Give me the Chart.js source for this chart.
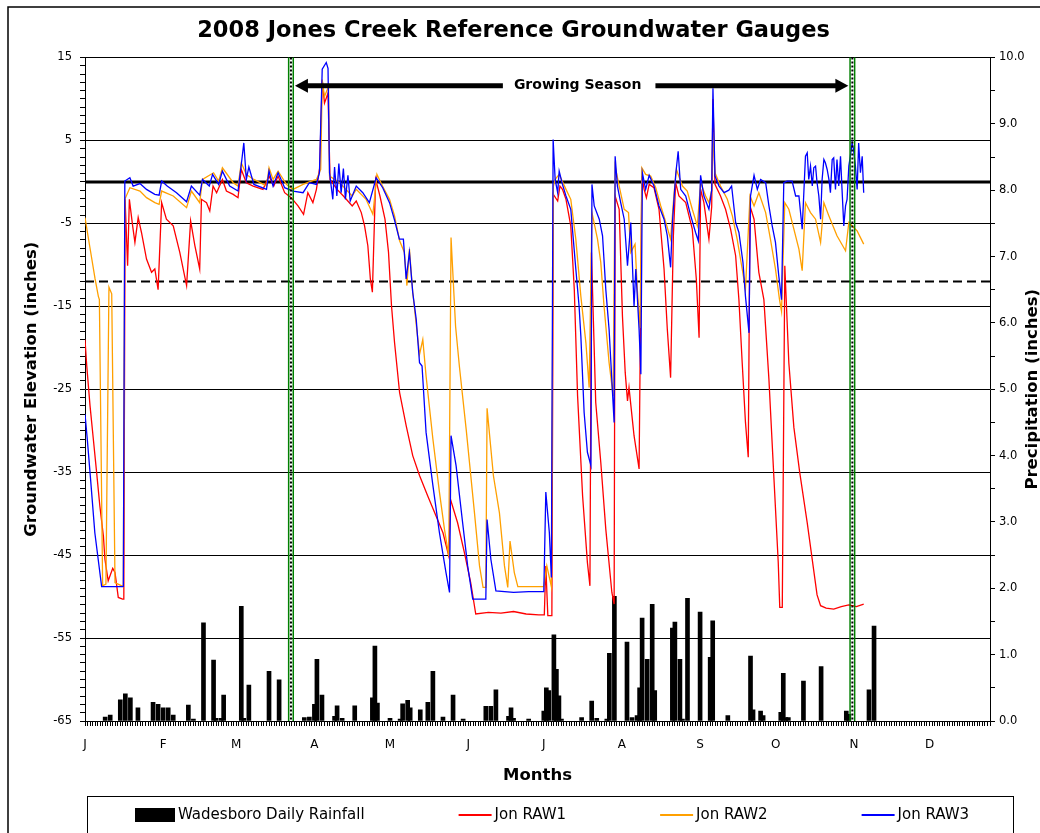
<!DOCTYPE html>
<html>
<head>
<meta charset="utf-8">
<title>2008 Jones Creek Reference Groundwater Gauges</title>
<script src="https://cdn.jsdelivr.net/npm/chart.js@4.4.1/dist/chart.umd.min.js"></script>
<style>
  html, body { margin: 0; padding: 0; background: #fff; }
</style>
</head>
<body>
<canvas id="myChart" width="1040" height="833"></canvas>
<script>
// x values are day of year (0 = Jan 1, 2008)
const monthStarts = [0, 31, 60, 91, 121, 152, 182, 213, 244, 274, 305, 335];
const monthLabels = ['J', 'F', 'M', 'A', 'M', 'J', 'J', 'A', 'S', 'O', 'N', 'D'];

// Wadesboro daily rainfall [day, inches]
const rainfall = [
  [8,0.06],[10,0.09],[14,0.32],[16,0.41],[18,0.35],[21,0.2],[27,0.28],[29,0.25],[31,0.2],[33,0.2],
  [35,0.09],[41,0.24],[43,0.03],[47,1.48],[51,0.92],[52,0.04],[54,0.04],[55,0.39],[62,1.73],[63,0.04],
  [65,0.54],[73,0.75],[77,0.62],[87,0.05],[89,0.06],[91,0.25],[92,0.93],[94,0.39],[99,0.07],[100,0.23],
  [102,0.04],[107,0.23],[114,0.35],[115,1.13],[116,0.27],[121,0.04],[125,0.03],[126,0.26],[128,0.31],[129,0.2],
  [133,0.17],[136,0.28],[138,0.75],[142,0.06],[146,0.39],[150,0.03],[159,0.22],[161,0.22],[163,0.47],[168,0.07],
  [169,0.2],[170,0.04],[176,0.03],[182,0.15],[183,0.5],[184,0.46],[186,1.3],[187,0.78],[188,0.38],[189,0.03],
  [197,0.05],[201,0.3],[203,0.04],[207,0.03],[208,1.02],[210,1.88],[215,1.19],[217,0.05],[219,0.08],[220,0.5],
  [221,1.55],[223,0.93],[225,1.76],[226,0.46],[233,1.4],[234,1.49],[236,0.93],[237,0.03],[239,1.85],[244,1.64],
  [248,0.96],[249,1.51],[255,0.08],[264,0.98],[265,0.17],[268,0.15],[269,0.08],[276,0.13],[277,0.72],[278,0.05],
  [279,0.05],[285,0.6],[292,0.82],[302,0.15],[303,0.1],[311,0.47],[313,1.43]
];

// groundwater elevation [day, inches]
const raw1 = [
  [0,-19],[0.7,-22.2],[2,-27],[3.3,-31],[4.6,-35],[5.9,-39.1],[7.3,-42.7],[7.9,-45.5],[9.2,-48.1],[11,-46.6],
  [11.9,-47.1],[13.2,-50.1],[14.9,-50.3],[15.4,-50.3],[15.9,-2.1],[16.9,-10.1],[17.6,-2.1],[18.9,-5.3],[19.8,-7.3],[21.1,-4.3],
  [22.4,-6.1],[24.4,-9.3],[26.4,-10.9],[27.7,-10.5],[29,-13],[30.4,-2.5],[32.3,-4.5],[35,-5.3],[37.6,-8.5],[40.3,-12.5],
  [41.9,-4.7],[43.6,-7.7],[45.5,-10.5],[46.2,-2.1],[48.2,-2.5],[49.5,-3.5],[50.8,-0.5],[52.2,-1.3],[54.5,0.3],[56.1,-1.1],
  [58.8,-1.5],[60.7,-1.9],[62,1.5],[64,-0.1],[66.7,-0.5],[70.6,-0.9],[73,0.7],[74.9,-0.5],[76.6,0.7],[79.2,-1.3],
  [81.8,-1.9],[84.5,-2.9],[86.7,-3.9],[88.4,-1.3],[90.4,-2.5],[91.8,-0.9],[93.1,1.7],[94.1,12.3],[95,9.5],[96.4,10.7],
  [97.2,0.3],[100,-0.9],[102.5,-1.7],[106,-2.9],[107.6,-2.3],[109.6,-3.7],[110.9,-5.3],[112.2,-7.7],[113.2,-11.7],[114,-13.3],
  [115.3,0.3],[117,-1.7],[119,-4.5],[120.4,-8.5],[121.6,-15],[122.8,-19.4],[124.8,-25.4],[127.4,-29.4],[130,-33],[132.7,-35.4],
  [136,-37.9],[139.3,-40.3],[142,-42.3],[144.3,-45.1],[145,-38.3],[147.8,-41.1],[150.5,-44.7],[153,-48.3],[155,-52.1],[160,-51.9],
  [165,-52],[170,-51.8],[175,-52.1],[180,-52.2],[182.2,-52.2],[182.8,-46.3],[183.6,-52.3],[185.2,-52.3],[185.8,-1.5],[187.5,-2.3],
  [188.4,-0.5],[189.4,-0.9],[190.8,-2.1],[192.7,-5.3],[194.1,-13],[195.4,-25.8],[197.4,-37.9],[199.3,-45.9],[200.3,-48.7],[200.9,-8.5],
  [202.6,-26.6],[204.6,-33.8],[206.6,-41.9],[209,-49.5],[209.9,-50.9],[210.3,-1.7],[211.9,-3.3],[213.2,-16.2],[214.3,-23],[215.2,-26.4],
  [215.8,-24.8],[217.8,-30.6],[219.8,-34.6],[220.9,0.7],[221.8,-0.9],[222.7,-1.9],[223.8,-0.3],[225.7,-0.7],[227.7,-3.3],[229.7,-10.5],
  [231,-17.8],[232.3,-23.6],[233.4,-6.5],[234.3,-0.1],[235.6,-1.7],[238.3,-2.5],[240.9,-5.7],[242.5,-11.7],[243.6,-18.8],[244.2,-0.9],
  [245.5,-2.5],[247.5,-6.9],[248.6,-3],[249.1,10],[249.9,-0.3],[252.1,-1.7],[254.1,-3.3],[256.1,-5.7],[258.1,-8.9],[259.4,-14.2],
  [260.7,-21.8],[262,-29],[263.1,-33.2],[263.8,-2.9],[265.4,-4.5],[267.3,-10.9],[269.3,-14.2],[271.3,-23.8],[273.3,-35.8],[275,-45.9],
  [275.6,-51.3],[276.6,-51.3],[277.6,-10.1],[279.2,-21.8],[281.2,-29.6],[283.5,-35],[286.5,-41.1],[290.4,-49.8],[291.8,-51.1],[294,-51.4],
  [297,-51.5],[300,-51.2],[303,-51],[306,-51.2],[308.9,-50.9]
];
const raw2 = [
  [0,-4.3],[2,-8],[4,-11.7],[5.3,-13.8],[5.7,-14.2],[7,-48.7],[8.3,-48.5],[9.5,-12.7],[10.6,-13.5],[11.9,-48.3],
  [15.2,-48.8],[15.8,-2.1],[17.8,-0.7],[21.8,-1.1],[24.4,-1.9],[27.7,-2.5],[29.4,-2.7],[30.4,-1.1],[35,-1.7],[40.3,-3.1],
  [42.2,-1.1],[45.5,-2.5],[46.6,0.3],[51,1.1],[53,0.1],[54.5,1.7],[58.8,-0.1],[60.7,-0.5],[62,2.3],[64,0.9],
  [67,0.3],[72,-0.5],[73,1.7],[74.6,0.3],[76.6,1.3],[79.9,-0.3],[82.5,-0.9],[86.5,-0.3],[89.8,0.1],[91.8,0.3],
  [93.5,1.5],[94.1,12.3],[95,10.3],[96.6,11.5],[97,0.7],[101,-0.1],[106,-1.7],[107.6,-0.9],[111.5,-2.1],[114.2,-3.9],
  [115.8,0.9],[118,-0.5],[120.8,-2.1],[122.8,-4.1],[124.8,-7.1],[126.7,-8.5],[127.7,-12.5],[128.7,-8.1],[130,-13.3],[132.7,-20.8],
  [134,-19],[135.3,-23.4],[138,-31],[140.6,-37.4],[142.6,-41.9],[144.3,-45.1],[145.2,-6.7],[147,-17.4],[148.5,-22.2],[151.2,-29.8],
  [154.5,-39.9],[156.5,-46.3],[157.9,-48.9],[159,-48.9],[159.5,-27.3],[162,-35.4],[164.4,-39.9],[166.4,-46.3],[167.7,-48.9],[168.6,-43.3],
  [170.3,-47.1],[171.7,-48.8],[182,-48.8],[183.2,-46.3],[185,-48.8],[185.8,-0.5],[186.5,0.3],[188.1,0.9],[190.8,-0.9],[192.7,-2.1],
  [194.7,-6.9],[196.7,-13.8],[198.7,-19.4],[200,-24.8],[201.1,-3.7],[203.3,-6.9],[204.6,-9.7],[205.9,-15],[207.9,-21.8],[209.5,-25.8],
  [210.3,1.9],[211.9,-0.5],[213.9,-3.3],[215.6,-3.7],[216.5,-8.5],[218.2,-7.5],[219.1,-13],[220.2,-17.6],[220.9,1.7],[222.4,0.9],
  [224.4,0.7],[226.4,-0.7],[228.4,-2.9],[230.4,-4.9],[232.3,-6.9],[233.7,-1.3],[234.6,1.5],[237,-0.5],[238.9,-1.1],[240.9,-3.3],
  [242.9,-5.3],[244.2,-0.1],[246.2,-1.7],[247.5,-2.5],[248.6,-1],[249.1,6],[249.9,1.1],[252.1,-0.5],[254.8,-2.1],[256.8,-4.1],
  [258.7,-6.9],[260.7,-10.5],[262,-12.9],[263.8,-1.7],[265.4,-2.9],[267.3,-1.3],[270,-3.7],[271.9,-6.9],[273.9,-10.5],[275.5,-14.2],
  [276.3,-15.6],[277.6,-2.5],[279.2,-3.3],[281.2,-5.7],[283.2,-8.1],[284.5,-10.7],[285.8,-2.5],[287.8,-3.7],[289.8,-4.5],[291.8,-7.3],
  [293.1,-2.5],[295.1,-4.1],[298.3,-6.5],[301.7,-8.3],[303,-4.9],[304.9,-5.5],[306.3,-5.9],[308.9,-7.5]
];
const raw3 = [
  [0,-28],[0.9,-31],[2.2,-35.8],[3.9,-42.3],[6.6,-48.8],[15.2,-48.8],[15.8,0.1],[17.8,0.5],[19.1,-0.5],[21.8,-0.2],
  [24.4,-0.9],[27.7,-1.5],[29.4,-1.6],[30.4,0.1],[32.6,-0.5],[36.3,-1.3],[40.3,-2.4],[42.2,-0.5],[45.5,-1.6],[46.6,0.3],
  [49.3,-0.5],[50.6,0.9],[53,-0.3],[54.5,1.3],[57.4,-0.5],[60.7,-1.1],[62,2.1],[63,4.7],[64,0.3],[65,1.8],
  [67,-0.3],[72,-0.9],[73,1.3],[74.6,-0.5],[76.6,1.1],[79.2,-0.7],[82.5,-1.1],[86.5,-1.3],[89,-0.1],[91.8,-0.3],
  [93,1.1],[94.1,13.6],[95.7,14.4],[96.4,13.7],[97,1.1],[98.3,-2.1],[99,1.8],[99.9,-1.7],[100.7,2.2],[101.6,-1.3],
  [102.5,1.6],[103.3,-2.1],[104.3,0.8],[105.2,-2.3],[107.6,-0.5],[110.2,-1.3],[112.8,-2.5],[115.5,0.5],[118.1,-0.7],[120.8,-2.5],
  [122.7,-4.5],[124.7,-6.9],[126.3,-6.9],[127.4,-11.7],[128.7,-8.5],[130,-13.3],[131.4,-16.6],[132.7,-21.8],[133.7,-22.2],[135.3,-30.2],
  [138,-36.6],[140.6,-42.3],[143.2,-47.1],[144.6,-49.5],[145.2,-30.6],[147.2,-34.2],[149.8,-41.1],[151.8,-46.3],[153.8,-50.3],[159,-50.3],
  [159.5,-40.7],[161,-45.5],[163,-49.3],[170,-49.5],[176,-49.4],[182,-49.4],[182.8,-37.4],[184.2,-42.3],[185,-47.7],[185.7,5.1],
  [186.5,0.3],[187.5,-1.3],[188.1,1.3],[189.4,-0.3],[190.8,-1.7],[192.7,-3.3],[194.7,-10.5],[196,-15],[196.7,-18.6],[198,-27.8],
  [199.3,-32.6],[200.7,-34.2],[201.1,-0.3],[202,-2.9],[204,-4.5],[205.3,-6.5],[206.6,-13],[207.9,-17.8],[209.9,-29],[210.3,3.1],
  [211.2,-0.5],[212.5,-2.5],[213.9,-4.5],[215.2,-10.1],[216.5,-4.9],[217.8,-15],[218.5,-10.5],[219.8,-17.8],[220.5,-23.2],[221.1,1.1],
  [222.4,-0.9],[223.8,0.8],[225.7,-0.5],[227.7,-2.9],[229.7,-4.5],[231,-6.5],[232.3,-10.3],[233,-5],[234.3,0.8],[235.3,3.7],
  [236.3,-0.9],[238.3,-1.7],[240.3,-4.1],[242.2,-6.1],[243.3,-7.1],[244.2,0.8],[245.5,-1.7],[247.5,-3.3],[248.6,-1],[249.1,11.3],
  [249.9,0.7],[251.5,-0.5],[253.5,-1.3],[255.4,-1],[256.5,-0.5],[258.1,-4.9],[259.4,-6.1],[261,-9.7],[262,-13.8],[263.4,-18.2],
  [264,-1.7],[265.4,0.8],[266.7,-0.9],[268,0.3],[270,-0.1],[271.3,-2.9],[272.6,-5.3],[273.9,-7.3],[275.2,-11.3],[276.3,-14.2],
  [277.2,-0.1],[278.5,0.1],[280.5,0.1],[281.9,-1.7],[283.2,-1.7],[284.5,-5.7],[285.8,3.1],[286.5,3.5],[287.1,0.3],[287.8,1.9],
  [288.5,-0.5],[289.1,1.7],[289.8,1.9],[290.4,-0.1],[291.1,-1.7],[291.8,-4.5],[292.4,0.3],[293.1,2.7],[293.7,2.3],[294.4,1.5],
  [295.1,0.3],[295.7,-1.3],[296.4,2.7],[297,2.9],[297.7,-0.9],[298.3,2.7],[299,-0.5],[299.7,3.1],[300.3,-0.9],[301,-5.3],
  [301.7,-2.9],[302.3,-2.1],[303,1.9],[303.6,3.1],[304.3,4.7],[304.9,3.9],[305.6,1.9],[306.3,-0.9],[306.9,4.7],[307.6,1.1],
  [308.3,3.1],[308.9,-1.3]
];

const referenceLevels = [0, -12];      // solid line, dashed line
const growingSeason = [81.7, 304.4];   // start and end day
const arrowLevel = 11.6;

const font = '"DejaVu Sans", sans-serif';
Chart.defaults.font.family = font;
Chart.defaults.color = '#000';

const toXY = (rows) => rows.map(([x, y]) => ({ x, y }));

function hLine(ctx, x1, y, x2) {
  ctx.beginPath();
  ctx.moveTo(x1, y);
  ctx.lineTo(x2, y);
  ctx.stroke();
}

function arrowHead(ctx, tipX, y, dir) {
  ctx.beginPath();
  ctx.moveTo(tipX, y);
  ctx.lineTo(tipX - dir * 13, y - 7);
  ctx.lineTo(tipX - dir * 13, y + 7);
  ctx.closePath();
  ctx.fill();
}

const decor = {
  id: 'decor',
  beforeDraw(chart) {
    const ctx = chart.ctx;
    ctx.save();
    ctx.fillStyle = '#fff';
    ctx.fillRect(0, 0, chart.width, chart.height);
    ctx.strokeStyle = '#000';
    ctx.lineWidth = 1.5;
    ctx.strokeRect(8, 7, 1200, 1000);
    ctx.restore();
  },
  beforeDatasetsDraw(chart) {
    const { ctx, chartArea: a, scales: { y } } = chart;
    ctx.save();
    ctx.strokeStyle = '#000';
    ctx.lineWidth = 3;
    hLine(ctx, a.left, y.getPixelForValue(referenceLevels[0]), a.right);
    ctx.lineWidth = 2;
    ctx.setLineDash([9, 5]);
    hLine(ctx, a.left, y.getPixelForValue(referenceLevels[1]), a.right);
    ctx.restore();
  },
  afterDatasetsDraw(chart) {
    const { ctx, chartArea: a, scales: { x, y } } = chart;
    ctx.save();
    // growing season markers
    growingSeason.forEach((d) => {
      const px = x.getPixelForValue(d);
      ctx.setLineDash([]);
      ctx.strokeStyle = '#008000';
      ctx.lineWidth = 1.5;
      [px - 2.3, px + 2.3].forEach((gx) => {
        ctx.beginPath();
        ctx.moveTo(gx, a.top);
        ctx.lineTo(gx, a.bottom);
        ctx.stroke();
      });
      ctx.strokeStyle = '#000';
      ctx.lineWidth = 2;
      ctx.setLineDash([2, 2]);
      ctx.beginPath();
      ctx.moveTo(px, a.top);
      ctx.lineTo(px, a.bottom);
      ctx.stroke();
    });
    // growing season arrows
    ctx.setLineDash([]);
    const left = x.getPixelForValue(growingSeason[0]) + 4;
    const right = x.getPixelForValue(growingSeason[1]) - 4;
    const ay = y.getPixelForValue(arrowLevel);
    const label = 'Growing Season';
    ctx.font = 'bold 14px ' + font;
    const tw = ctx.measureText(label).width;
    const cx = (left + right) / 2 + 6;
    ctx.fillStyle = '#000';
    ctx.strokeStyle = '#000';
    ctx.lineWidth = 5;
    hLine(ctx, left + 10, ay, cx - tw / 2 - 11);
    hLine(ctx, cx + tw / 2 + 14, ay, right - 10);
    arrowHead(ctx, left, ay, -1);
    arrowHead(ctx, right, ay, 1);
    ctx.textAlign = 'center';
    ctx.textBaseline = 'middle';
    ctx.fillText(label, cx, ay);
    ctx.restore();
  },
  afterDraw(chart) {
    const { ctx, chartArea: a } = chart;
    ctx.save();
    // right axis title
    ctx.font = 'bold 16.5px ' + font;
    ctx.fillStyle = '#000';
    ctx.textAlign = 'center';
    ctx.textBaseline = 'middle';
    ctx.translate(1033, (a.top + a.bottom) / 2);
    ctx.rotate(-Math.PI / 2);
    ctx.fillText('Precipitation (inches)', 0, 0);
    ctx.restore();

    // legend box
    ctx.save();
    const boxL = 87, boxR = 1013, boxT = 796;
    ctx.strokeStyle = '#000';
    ctx.lineWidth = 1;
    ctx.strokeRect(boxL + 0.5, boxT + 0.5, boxR - boxL, 60);
    ctx.font = '15px ' + font;
    ctx.textBaseline = 'middle';
    const items = chart.data.datasets;
    const marks = items.map((ds) => (ds.type === 'bar' ? 40 : 33));
    const widths = items.map((ds, i) => marks[i] + 3 + ctx.measureText(ds.label).width);
    const gap = 94;
    let lx = boxL + 48;
    const ly = boxT + 19;
    items.forEach((ds, i) => {
      if (ds.type === 'bar') {
        ctx.fillStyle = ds.backgroundColor;
        ctx.fillRect(lx, ly - 7, marks[i], 14);
      } else {
        ctx.strokeStyle = ds.borderColor;
        ctx.lineWidth = 2;
        hLine(ctx, lx, ly, lx + marks[i]);
      }
      ctx.fillStyle = '#000';
      ctx.fillText(ds.label, lx + marks[i] + 3, ly);
      lx += widths[i] + gap;
    });
    ctx.restore();
  }
};

const data = {
  datasets: [
    {
      type: 'bar',
      label: 'Wadesboro Daily Rainfall',
      data: toXY(rainfall),
      yAxisID: 'y2',
      backgroundColor: '#000',
      barThickness: 4,
      order: 4
    },
    {
      type: 'line',
      label: 'Jon RAW1',
      data: toXY(raw1),
      yAxisID: 'y',
      borderColor: '#ff0000',
      borderWidth: 1.3,
      pointRadius: 0,
      order: 3
    },
    {
      type: 'line',
      label: 'Jon RAW2',
      data: toXY(raw2),
      yAxisID: 'y',
      borderColor: '#ffa000',
      borderWidth: 1.3,
      pointRadius: 0,
      order: 2
    },
    {
      type: 'line',
      label: 'Jon RAW3',
      data: toXY(raw3),
      yAxisID: 'y',
      borderColor: '#0000ff',
      borderWidth: 1.3,
      pointRadius: 0,
      order: 1
    }
  ]
};

const options = {
  responsive: false,
  animation: false,
  devicePixelRatio: 1,
  layout: { padding: { top: 8, left: 0, right: 13, bottom: 41 } },
  plugins: {
    legend: { display: false },
    tooltip: { enabled: false },
    title: {
      display: true,
      text: '2008 Jones Creek Reference Groundwater Gauges',
      font: { size: 22.5, weight: 'bold' },
      color: '#000',
      padding: { top: 10, bottom: 12.5 }
    }
  },
  scales: {
    x: {
      type: 'linear',
      min: 0,
      max: 359,
      offset: false,
      afterFit: (s) => { s.height = 71; },
      ticks: {
        stepSize: 1,
        autoSkip: false,
        maxRotation: 0,
        padding: 12,
        font: { size: 12 },
        callback: (v) => {
          const i = monthStarts.indexOf(v);
          return i >= 0 ? monthLabels[i] : '';
        }
      },
      grid: { drawOnChartArea: false, offset: false, tickLength: 5, color: '#000', lineWidth: 1 },
      border: { color: '#000' },
      title: {
        display: true,
        text: 'Months',
        font: { size: 16.5, weight: 'bold' },
        padding: { top: 0, bottom: 6 }
      }
    },
    y: {
      position: 'left',
      min: -65,
      max: 15,
      afterFit: (s) => { s.width = 85; },
      ticks: {
        stepSize: 1,
        autoSkip: false,
        padding: 8,
        font: { size: 11.5 },
        callback: (v) => ((v + 65) % 10 === 0 ? v : '')
      },
      grid: {
        color: (c) => (c.tick && (c.tick.value + 65) % 10 === 0 ? '#000' : 'rgba(0,0,0,0)'),
        tickColor: '#000',
        tickLength: 5,
        lineWidth: 1
      },
      border: { color: '#000' },
      title: {
        display: true,
        text: 'Groundwater Elevation (inches)',
        font: { size: 16.5, weight: 'bold' },
        padding: { top: 22, bottom: 0 }
      }
    },
    y2: {
      position: 'right',
      min: 0,
      max: 10,
      afterFit: (s) => { s.width = 37; },
      ticks: {
        stepSize: 0.5,
        autoSkip: false,
        padding: 4,
        font: { size: 11.5 },
        callback: (v) => (Number.isInteger(v) ? v.toFixed(1) : '')
      },
      grid: { drawOnChartArea: false, tickLength: 5, color: '#000' },
      border: { color: '#000' }
    }
  }
};

const ctx = document.getElementById('myChart').getContext('2d');
const myChart = new Chart(ctx, {
  type: 'line',
  data: data,
  options: options,
  plugins: [decor]
});
</script>
</body>
</html>
